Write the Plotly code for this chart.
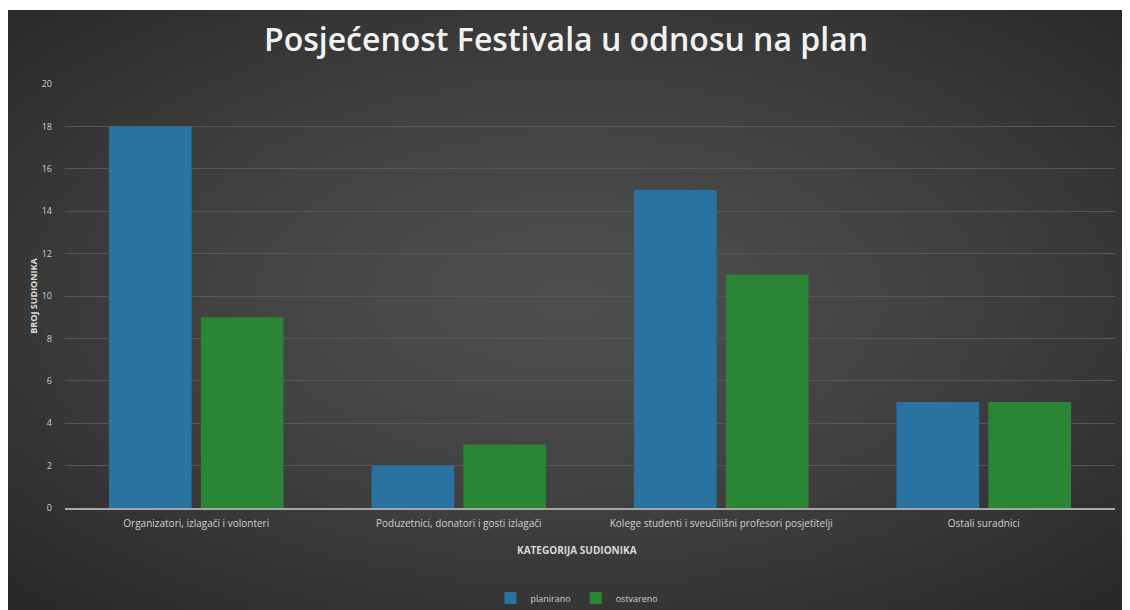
import base64, struct, zlib, math
import plotly.graph_objects as go

categories = [
    "Organizatori, izlagači i volonteri",
    "Poduzetnici, donatori i gosti izlagači",
    "Kolege studenti i sveučilišni profesori posjetitelji",
    "Ostali suradnici",
]
planirano = [18, 2, 15, 5]
ostvareno = [9, 3, 11, 5]
y_ticks = [0, 2, 4, 6, 8, 10, 12, 14, 16, 18, 20]

W, H = 1122, 602
ML, MR, MT, MB = 57, 15, 76, 102
PW, PH = W - ML - MR, H - MT - MB
OFF = 8  # page offset of the figure


def make_png(w, h):
    rows = b""
    for j in range(h):
        row = bytearray([0])
        for i in range(w):
            dx = (i + 0.5) / w - 0.5
            dy = (j + 0.5) / h - 0.48
            r = min(1.0, math.sqrt((dx / 0.5) ** 2 + (dy / 0.5) ** 2) / math.sqrt(2))
            v = int(round(78 - (78 - 40) * (r ** 1.4)))
            row.append(v)
        rows += bytes(row)

    def chunk(t, d):
        c = struct.pack(">I", len(d)) + t + d
        return c + struct.pack(">I", zlib.crc32(t + d) & 0xFFFFFFFF)

    png = b"\x89PNG\r\n\x1a\n"
    png += chunk(b"IHDR", struct.pack(">IIBBBBB", w, h, 8, 0, 0, 0, 0))
    png += chunk(b"IDAT", zlib.compress(rows, 9))
    png += chunk(b"IEND", b"")
    return "data:image/png;base64," + base64.b64encode(png).decode()


bg = make_png(226, 122)

px0, py0 = 0, 2
img_x = (px0 - ML) / PW
img_y = (H - MB - py0) / PH
img_sx = (W - px0) / PW
img_sy = (H - py0) / PH

fig = go.Figure()
fig.add_trace(go.Bar(name="planirano", x=categories, y=planirano,
                     marker=dict(color="#2a72a0", line=dict(width=0))))
fig.add_trace(go.Bar(name="ostvareno", x=categories, y=ostvareno,
                     marker=dict(color="#2a8634", line=dict(width=0))))

fig.update_layout(
    width=W, height=H, autosize=False,
    margin=dict(l=ML, r=MR, t=MT, b=MB, autoexpand=False),
    paper_bgcolor="white",
    plot_bgcolor="rgba(0,0,0,0)",
    barmode="group", bargap=0.30, bargroupgap=0.10,
    font=dict(family="Open Sans, sans-serif", color="#d4d4d4", size=10),
    title=dict(text="Posjećenost Festivala u odnosu na plan",
               x=(566 - OFF) / W, xref="container", xanchor="center",
               y=1 - (40 - OFF) / H, yref="container", yanchor="middle",
               font=dict(family="Open Sans, sans-serif", size=32, weight=600,
                         color="#f2f2f2")),
    images=[dict(source=bg, xref="paper", yref="paper", x=img_x, y=img_y,
                 sizex=img_sx, sizey=img_sy, sizing="stretch",
                 xanchor="left", yanchor="top", layer="below")],
    legend=dict(orientation="h", x=(577 - OFF) / W, xref="container",
                xanchor="center",
                y=1 - (598 - OFF) / H, yref="container", yanchor="middle",
                font=dict(size=9, color="#cfcfcf"),
                bgcolor="rgba(0,0,0,0)", traceorder="normal"),
    showlegend=True,
    annotations=[dict(text="<b>KATEGORIJA SUDIONIKA</b>", showarrow=False,
                      xref="paper", x=(577 - OFF - ML) / PW, xanchor="center",
                      yref="paper", y=-(550 - OFF - (H - MB)) / PH,
                      yanchor="middle",
                      font=dict(size=10, color="#d8d8d8"))],
)
fig.update_xaxes(
    showgrid=False, showline=True, linecolor="#a6a6a6", linewidth=1.5,
    ticks="", tickfont=dict(size=10, color="#d0d0d0"), ticklabelstandoff=5,
)
fig.update_yaxes(
    range=[0, 20], tickvals=y_ticks, showgrid=True, gridcolor="#575757",
    gridwidth=1, zeroline=False, showline=False, ticks="",
    tickfont=dict(size=9, color="#d0d0d0"), ticklabelstandoff=12,
    title=dict(text="<b>BROJ SUDIONIKA</b>", standoff=2,
               font=dict(size=9, color="#d8d8d8")),
)

fig.write_html("out.html")
